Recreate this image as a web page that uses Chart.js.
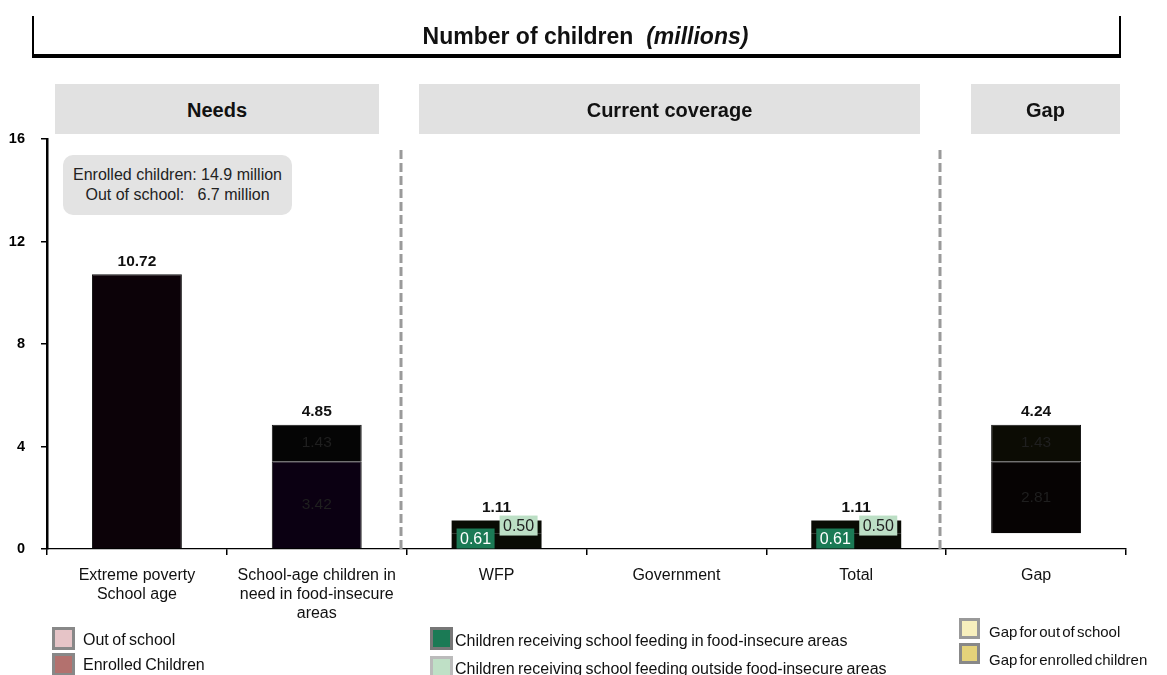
<!DOCTYPE html>
<html>
<head>
<meta charset="utf-8">
<script src="https://cdn.jsdelivr.net/npm/chart.js@4"></script>
<style>
  body { margin: 0; background: #fff; font-family: "Liberation Sans", Arial, sans-serif; }
  #wrap { position: relative; width: 1167px; height: 675px; overflow: hidden; }
  #chart { position: absolute; left: 0; top: 0; }
  .abs { position: absolute; }
  #titleFrame { left: 32px; top: 16px; width: 1085px; height: 38px; border-left: 2px solid #000; border-right: 2px solid #000; border-bottom: 4px solid #000; }
  #title { left: 32px; top: 23px; width: 1089px; text-align: center; font-weight: bold; font-size: 23px; color: #111; padding-left: 18px; box-sizing: border-box; }
  .hdr { background: #e1e1e1; top: 84px; height: 50px; line-height: 52px; text-align: center; font-weight: bold; font-size: 20px; color: #111; }
  #note { left: 63px; top: 155px; width: 229px; height: 60px; background: #e3e3e3; border-radius: 10px; font-size: 16px; color: #222; text-align: center; line-height: 20px; padding-top: 10px; box-sizing: border-box; white-space: pre; }
  .sw { position: absolute; width: 17px; height: 17px; border: 3px solid #888; }
  .lt { position: absolute; font-size: 16px; color: #111; white-space: nowrap; line-height: 18px; word-spacing: -1px; }
  .lt.sm { font-size: 15px; word-spacing: -2px; }
</style>
</head>
<body>
<div id="wrap">
  <canvas id="chart" width="1167" height="675"></canvas>

  <div id="titleFrame" class="abs"></div>
  <div id="title" class="abs">Number of children&nbsp;&nbsp;<i>(millions)</i></div>

  <div class="abs hdr" style="left:55px; width:324px;">Needs</div>
  <div class="abs hdr" style="left:419px; width:501px;">Current coverage</div>
  <div class="abs hdr" style="left:971px; width:149px;">Gap</div>

  <div id="note" class="abs">Enrolled children: 14.9 million
Out of school:   6.7 million</div>

  <!-- legend: needs -->
  <div class="sw" style="left:52px; top:627px; background:#e6c4c7;"></div>
  <div class="lt" style="left:83px; top:631px;">Out of school</div>
  <div class="sw" style="left:52px; top:653px; background:#b3716e;"></div>
  <div class="lt" style="left:83px; top:656px;">Enrolled Children</div>

  <!-- legend: coverage -->
  <div class="sw" style="left:430px; top:627px; background:#1b7a55; border-color:#777;"></div>
  <div class="lt" style="left:455px; top:632px;">Children receiving school feeding in food-insecure areas</div>
  <div class="sw" style="left:430px; top:656px; background:#bfe0c6; border-color:#bbb;"></div>
  <div class="lt" style="left:455px; top:660px;">Children receiving school feeding outside food-insecure areas</div>

  <!-- legend: gap -->
  <div class="sw" style="left:959px; top:618px; width:15px; height:15px; background:#f7efbd; border-color:#999;"></div>
  <div class="lt sm" style="left:989px; top:623px;">Gap for out of school</div>
  <div class="sw" style="left:959px; top:643px; width:15px; height:15px; background:#e4d27a;"></div>
  <div class="lt sm" style="left:989px; top:651px;">Gap for enrolled children</div>
</div>

<script>
/* School feeding needs / coverage / gap (millions of children) */

const categories = [
  ["Extreme poverty", "School age"],
  ["School-age children in", "need in food-insecure", "areas"],
  "WFP",
  "Government",
  "Total",
  "Gap"
];

// invisible base so the gap bar floats
const gapBase     = [0, 0, 0, 0, 0, 0.61];
const enrolled    = [10.72, 3.42, null, null, null, null];
const outOfSchool = [null, 1.43, null, null, null, null];
const feedingIn   = [null, null, 0.61, null, 0.61, null];
const feedingOut  = [null, null, 0.50, null, 0.50, null];
const gapEnrolled = [null, null, null, null, null, 2.81];
const gapOut      = [null, null, null, null, null, 1.43];
const totals      = [10.72, 4.85, 1.11, null, 1.11, 4.24];

const yTicks = [0, 4, 8, 12, 16];

const FONT = '"Liberation Sans", Arial, sans-serif';

function fmt(v) { return v.toFixed(2); }

/* dashed separators + value labels */
const decor = {
  id: "decor",
  beforeDatasetsDraw(chart) {
    const { ctx, chartArea, scales: { x } } = chart;
    ctx.save();
    ctx.strokeStyle = "#9a9a9a";
    ctx.lineWidth = 3;
    ctx.setLineDash([9, 4]);
    [1.5, 4.5].forEach(v => {
      const px = Math.round(x.getPixelForValue(v)) - 6;
      ctx.beginPath();
      ctx.moveTo(px, chartArea.top + 11);
      ctx.lineTo(px, chartArea.bottom);
      ctx.stroke();
    });
    ctx.restore();
  },
  afterDatasetsDraw(chart) {
    const { ctx, scales: { x, y } } = chart;
    ctx.save();
    ctx.textAlign = "center";

    // inner segment labels (dark text on dark bars)
    const inner = [1, 2, 5, 6]; // enrolled, outOfSchool, gapEnrolled, gapOut
    ctx.font = "15.5px " + FONT;
    ctx.fillStyle = "#1f1f1f";
    ctx.textBaseline = "middle";
    inner.forEach(di => {
      const ds = chart.data.datasets[di];
      const meta = chart.getDatasetMeta(di);
      ds.data.forEach((v, i) => {
        if (v == null || (di === 1 && i === 0)) return;
        const el = meta.data[i];
        ctx.fillText(fmt(v), el.x, (el.y + el.base) / 2);
      });
    });

    // boxed labels for school feeding segments
    const boxes = [
      { di: 3, dx: -21, bg: "#1b7a55", fg: "#fff" },
      { di: 4, dx: 22, bg: "#bcdfc5", fg: "#222" }
    ];
    ctx.font = "16px " + FONT;
    boxes.forEach(b => {
      const ds = chart.data.datasets[b.di];
      const meta = chart.getDatasetMeta(b.di);
      ds.data.forEach((v, i) => {
        if (v == null) return;
        const el = meta.data[i];
        const cx = el.x + b.dx;
        let cy;
        if (b.di === 3) cy = y.getPixelForValue(0) - 10.5;
        else cy = y.getPixelForValue(totals[i]) + 5;
        ctx.fillStyle = b.bg;
        ctx.fillRect(cx - 19, cy - 10, 38, 20);
        ctx.fillStyle = b.fg;
        ctx.fillText(fmt(v), cx, cy + 1);
      });
    });

    // totals above each stack
    ctx.font = "bold 15.5px " + FONT;
    ctx.fillStyle = "#111";
    ctx.textBaseline = "bottom";
    totals.forEach((t, i) => {
      if (t == null) return;
      let top = 0;
      chart.data.datasets.forEach(ds => { top += ds.data[i] || 0; });
      ctx.fillText(fmt(t), x.getPixelForValue(i), y.getPixelForValue(top) - 5);
    });
    ctx.restore();
  }
};

const barBase = { borderWidth: 1, borderColor: "#111", barPercentage: 0.5, categoryPercentage: 1.0 };

new Chart(document.getElementById("chart"), {
  type: "bar",
  data: {
    labels: categories,
    datasets: [
      { label: "base", data: gapBase, backgroundColor: "rgba(0,0,0,0)", borderWidth: 0, barPercentage: 0.5, categoryPercentage: 1.0 },
      { ...barBase, label: "Enrolled Children", data: enrolled, backgroundColor: ["#0c0208", "#0b0012"] },
      { ...barBase, label: "Out of school", data: outOfSchool, backgroundColor: "#050505" },
      { ...barBase, label: "Children receiving school feeding in food-insecure areas", data: feedingIn, backgroundColor: "#090b04", borderWidth: 0 },
      { ...barBase, label: "Children receiving school feeding outside food-insecure areas", data: feedingOut, backgroundColor: "#090b04", borderWidth: 0 },
      { ...barBase, label: "Gap for enrolled children", data: gapEnrolled, backgroundColor: "#060303" },
      { ...barBase, label: "Gap for out of school", data: gapOut, backgroundColor: "#0c0c04" }
    ]
  },
  options: {
    responsive: false,
    animation: false,
    devicePixelRatio: 1,
    layout: { padding: { left: 0, right: 41, top: 139, bottom: 0 } },
    plugins: { legend: { display: false }, tooltip: { enabled: false } },
    scales: {
      x: {
        stacked: true,
        offset: true,
        grid: { offset: true, drawOnChartArea: false, drawTicks: true, tickLength: 6, color: "#000", lineWidth: 1.5 },
        border: { color: "#000", width: 1.2 },
        ticks: { font: { family: FONT, size: 16, lineHeight: 1.2 }, color: "#111", padding: 11, maxRotation: 0, autoSkip: false },
        afterFit(s) { s.height = 126; }
      },
      y: {
        stacked: true,
        min: yTicks[0],
        max: yTicks[yTicks.length - 1],
        afterBuildTicks(s) { s.ticks = yTicks.map(v => ({ value: v })); },
        ticks: { font: { family: FONT, size: 14.5, weight: "bold" }, color: "#000", padding: 16 },
        grid: { drawOnChartArea: false, drawTicks: true, tickLength: 6, color: "#000", lineWidth: 1.5 },
        border: { color: "#000", width: 2.5 },
        afterFit(s) { s.width = 47; }
      }
    }
  },
  plugins: [decor]
});
</script>
</body>
</html>
